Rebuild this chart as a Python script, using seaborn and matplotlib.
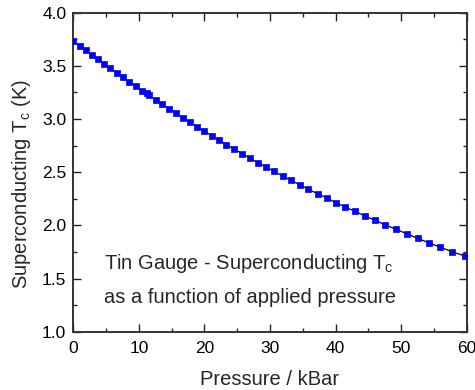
import matplotlib
matplotlib.use("Agg")
import matplotlib.pyplot as plt
from matplotlib.ticker import MultipleLocator, FormatStrFormatter
import seaborn as sns
import pandas as pd

# Tin manometer calibration: superconducting transition vs applied pressure
pressure_kbar = [0.0, 1.02, 1.94, 2.85, 3.77, 4.68, 5.60, 6.62, 7.58, 8.54,
                 9.56, 10.48, 11.19, 11.59, 12.57, 13.57, 14.60, 15.66, 16.73, 17.80,
                 18.87, 19.98, 21.11, 22.22, 23.33, 24.55, 25.73, 26.95, 28.17, 29.39,
                 30.65, 31.93, 33.20, 34.53, 35.84, 37.27, 38.65, 40.06, 41.48, 42.96,
                 44.49, 46.01, 47.54, 49.22, 50.85, 52.52, 54.20, 55.97, 57.80, 59.70]
tc_kelvin = [3.731, 3.687, 3.646, 3.602, 3.562, 3.518, 3.477, 3.433, 3.392, 3.348,
             3.308, 3.266, 3.245, 3.223, 3.179, 3.139, 3.097, 3.054, 3.013, 2.969,
             2.928, 2.887, 2.843, 2.803, 2.759, 2.718, 2.674, 2.633, 2.589, 2.549,
             2.508, 2.464, 2.424, 2.382, 2.339, 2.298, 2.257, 2.213, 2.173, 2.132,
             2.088, 2.048, 2.006, 1.963, 1.922, 1.878, 1.837, 1.794, 1.752, 1.712]

x_major = [0, 10, 20, 30, 40, 50, 60]
y_major = [1.0, 1.5, 2.0, 2.5, 3.0, 3.5, 4.0]

df = pd.DataFrame({"P": pressure_kbar, "Tc": tc_kelvin})

sns.set_style("ticks")
plt.rcParams["font.family"] = ["Liberation Sans", "DejaVu Sans"]
plt.rcParams["mathtext.fontset"] = "custom"
plt.rcParams["mathtext.rm"] = "Liberation Sans"

fig = plt.figure(figsize=(4.75, 3.9), dpi=100)
ax = fig.add_axes([0.1543, 0.1495, 0.8282, 0.8179])

sns.lineplot(data=df, x="P", y="Tc", ax=ax, color="black", linewidth=0.9,
             zorder=2, legend=False)
sns.scatterplot(data=df, x="P", y="Tc", ax=ax, marker="s", color="#0000ff",
                edgecolor="#0000ff", linewidth=0.5, s=17, zorder=3,
                legend=False, clip_on=True)

ax.set_xlim(x_major[0], x_major[-1])
ax.set_ylim(y_major[0], y_major[-1])
ax.set_xticks(x_major)
ax.set_yticks(y_major)
ax.xaxis.set_minor_locator(MultipleLocator(5))
ax.yaxis.set_minor_locator(MultipleLocator(0.25))
ax.yaxis.set_major_formatter(FormatStrFormatter("%.1f"))

ax.tick_params(which="both", direction="in", top=True, right=True,
               colors="#222222", labelcolor="black", labelsize=12.5, width=1.0)
ax.tick_params(which="major", length=6, pad=5)
ax.tick_params(axis="x", which="major", pad=7)
ax.tick_params(which="minor", length=3)
for sp in ax.spines.values():
    sp.set_visible(True)
    sp.set_linewidth(1.4)
    sp.set_color("#333333")

ax.set_xlabel("Pressure / kBar", fontsize=14.5, labelpad=10)
ax.set_ylabel(r"Superconducting T$_\mathregular{c}$ (K)", fontsize=14.5)
ax.yaxis.set_label_coords(-0.1024, 0.463)

ax.text(4.7, 1.59, r"Tin Gauge - Superconducting T$_\mathregular{c}$",
        fontsize=14.5, ha="left", va="baseline")
ax.text(4.7, 1.27, "as a function of applied pressure",
        fontsize=14.5, ha="left", va="baseline")

fig.savefig("out.png", dpi=100)
